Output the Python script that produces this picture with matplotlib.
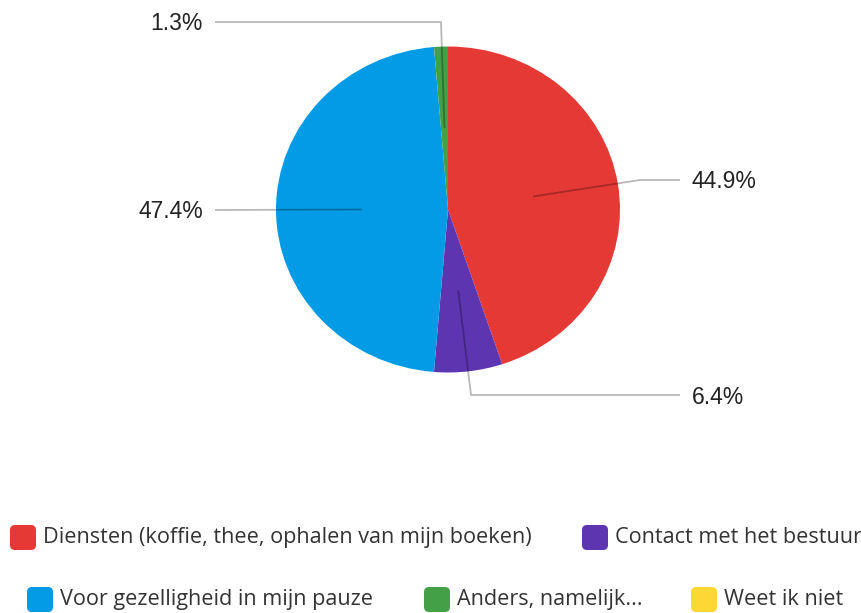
import numpy as np
import matplotlib
matplotlib.use("Agg")
import matplotlib.pyplot as plt
from matplotlib.patches import FancyBboxPatch

# data
labels = ["Diensten (koffie, thee, ophalen van mijn boeken)",
          "Contact met het bestuur",
          "Weet ik niet",
          "Voor gezelligheid in mijn pauze",
          "Anders, namelijk..."]
values = [44.9, 6.4, 0.0, 47.4, 1.3]
colors = ["#E53935", "#5E35B1", "#FDD835", "#039BE5", "#43A047"]

legend_order = [0, 1, 3, 4, 2]

W, H = 861, 613
fig = plt.figure(figsize=(W / 100, H / 100), dpi=100)

# pie area in pixels (the original is slightly wider than tall)
cx, cy_top, rx, ry = 448, 209.5, 172, 163
cy = H - cy_top
pax = fig.add_axes([(cx - rx) / W, (cy - ry) / H, 2 * rx / W, 2 * ry / H])
wedges, _ = pax.pie(values, colors=colors, startangle=90, counterclock=False,
                    radius=1, wedgeprops=dict(linewidth=0))
pax.set_aspect("auto")
pax.set_xlim(-1, 1)
pax.set_ylim(-1, 1)
pax.axis("off")

# overlay in pixel coordinates for leaders, labels and legend
ax = fig.add_axes([0, 0, 1, 1])
ax.set_xlim(0, W)
ax.set_ylim(0, H)
ax.axis("off")
ax.patch.set_alpha(0)

# leader line bends, in pixels from the top
leaders = {
    0: [(640, 180), (680, 180)],
    1: [(471, 395), (680, 395)],
    3: [(215, 210)],
    4: [(441, 22), (215, 22)],
}
lab_font = dict(family=["Liberation Sans", "DejaVu Sans"], fontsize=16.5,
                color="#222222")
for i, pts in leaders.items():
    w = wedges[i]
    mid = np.deg2rad((w.theta1 + w.theta2) / 2)
    a_x = cx + 0.5 * rx * np.cos(mid)
    a_y = cy + 0.5 * ry * np.sin(mid)
    xs = [a_x] + [p[0] for p in pts]
    ys = [a_y] + [H - p[1] for p in pts]
    ax.plot(xs, ys, color="black", alpha=0.28, lw=1.3, solid_capstyle="butt")
    ex, ey = xs[-1], ys[-1] - 2
    txt = f"{values[i]:.1f}%"
    if ex > cx:
        ax.text(ex + 12, ey, txt, ha="left", va="center", **lab_font)
    else:
        ax.text(ex - 12, ey, txt, ha="right", va="center", **lab_font)

# legend, drawn by hand in two rows (swatch left x, centre y from top)
leg_pos = [(10, 537.5), (582, 537.5), (27, 599.5), (424, 599.5), (691, 599.5)]
leg_font = dict(family=["Open Sans", "DejaVu Sans"], fontsize=15.6,
                color="#333333")
for (x0, y0), i in zip(leg_pos, legend_order):
    box = FancyBboxPatch((x0, H - y0 - 12.5), 26, 25,
                         boxstyle="round,pad=0,rounding_size=5",
                         fc=colors[i], ec="none")
    ax.add_patch(box)
    ax.text(x0 + 33, H - y0, labels[i], ha="left", va="center", **leg_font)

fig.savefig("out.png", dpi=100)
